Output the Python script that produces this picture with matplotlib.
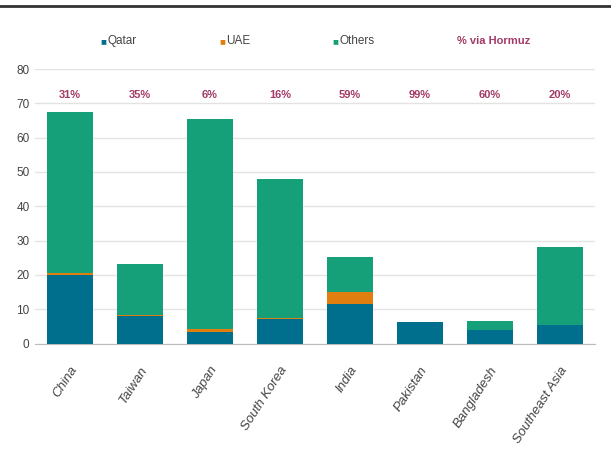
import matplotlib
matplotlib.use("Agg")
import matplotlib.pyplot as plt
from matplotlib.lines import Line2D
import numpy as np

# ------------------------------------------------------------------------------
# Data
# ------------------------------------------------------------------------------
regions = ["China", "Taiwan", "Japan", "South Korea", "India",
           "Pakistan", "Bangladesh", "Southeast Asia"]
qatar = [19.9, 8.0, 3.3, 7.2, 11.5, 6.4, 4.0, 5.3]
uae = [0.7, 0.3, 1.0, 0.3, 3.4, 0.0, 0.0, 0.0]
totals = [67.6, 23.3, 65.5, 47.8, 25.3, 6.4, 6.7, 28.2]
hormuz_share = ["31%", "35%", "6%", "16%", "59%", "99%", "60%", "20%"]

others = [t - q - u for t, q, u in zip(totals, qatar, uae)]

# ------------------------------------------------------------------------------
# Style
# ------------------------------------------------------------------------------
plt.rcParams["font.family"] = ["Liberation Sans", "DejaVu Sans"]

C_QATAR = "#006F8E"
C_UAE = "#E07E10"
C_OTHERS = "#15A07A"
C_HORMUZ = "#A33A66"
C_TEXT = "#444444"

fig = plt.figure(figsize=(6.11, 4.55), dpi=100)
ax = fig.add_axes([35 / 611, 1 - 343.5 / 455, 560 / 611, 274.5 / 455])

x = np.arange(len(regions))
w = 0.667
ax.bar(x, qatar, w, color=C_QATAR, zorder=3)
ax.bar(x, uae, w, bottom=qatar, color=C_UAE, zorder=3)
ax.bar(x, others, w, bottom=np.add(qatar, uae), color=C_OTHERS, zorder=3)

for xi, s in zip(x, hormuz_share):
    ax.text(xi, 72.5, s, ha="center", va="center", color=C_HORMUZ,
            fontsize=8, fontweight="bold")

ax.set_xlim(-0.5, len(regions) - 0.5)
ax.set_ylim(0, 80)
ax.set_yticks(range(0, 81, 10))
ax.yaxis.grid(True, color="#e3e3e3", linewidth=1, zorder=0)
ax.set_axisbelow(True)
for sp in ["top", "right", "left"]:
    ax.spines[sp].set_visible(False)
ax.spines["bottom"].set_color("#bbbbbb")
ax.tick_params(axis="both", length=0, labelsize=8.5, colors=C_TEXT)
ax.tick_params(axis="y", pad=4)
ax.set_xticks(x)
ax.set_xticklabels(regions, rotation=57, ha="right", rotation_mode="anchor",
                   fontsize=9.5, color=C_TEXT, style="italic")
ax.tick_params(axis="x", pad=15)

# legend row
leg_y = 1 - 41 / 455
for xpix, label, col in [(103, "Qatar", C_QATAR), (222, "UAE", C_UAE),
                         (335, "Others", C_OTHERS)]:
    fig.text(xpix / 611, leg_y, "\u25A0", color=col, fontsize=7,
             ha="center", va="center")
    fig.text((xpix + 4) / 611, leg_y, label, color=C_TEXT, fontsize=8.5,
             ha="left", va="center")
fig.text(494 / 611, leg_y, "% via Hormuz", color=C_HORMUZ, fontsize=8,
         fontweight="bold", ha="center", va="center")

# top rule
fig.add_artist(Line2D([0, 1], [1 - 6 / 455, 1 - 6 / 455], color="#333333",
                      linewidth=2, transform=fig.transFigure))

fig.savefig("out.png", dpi=100)
